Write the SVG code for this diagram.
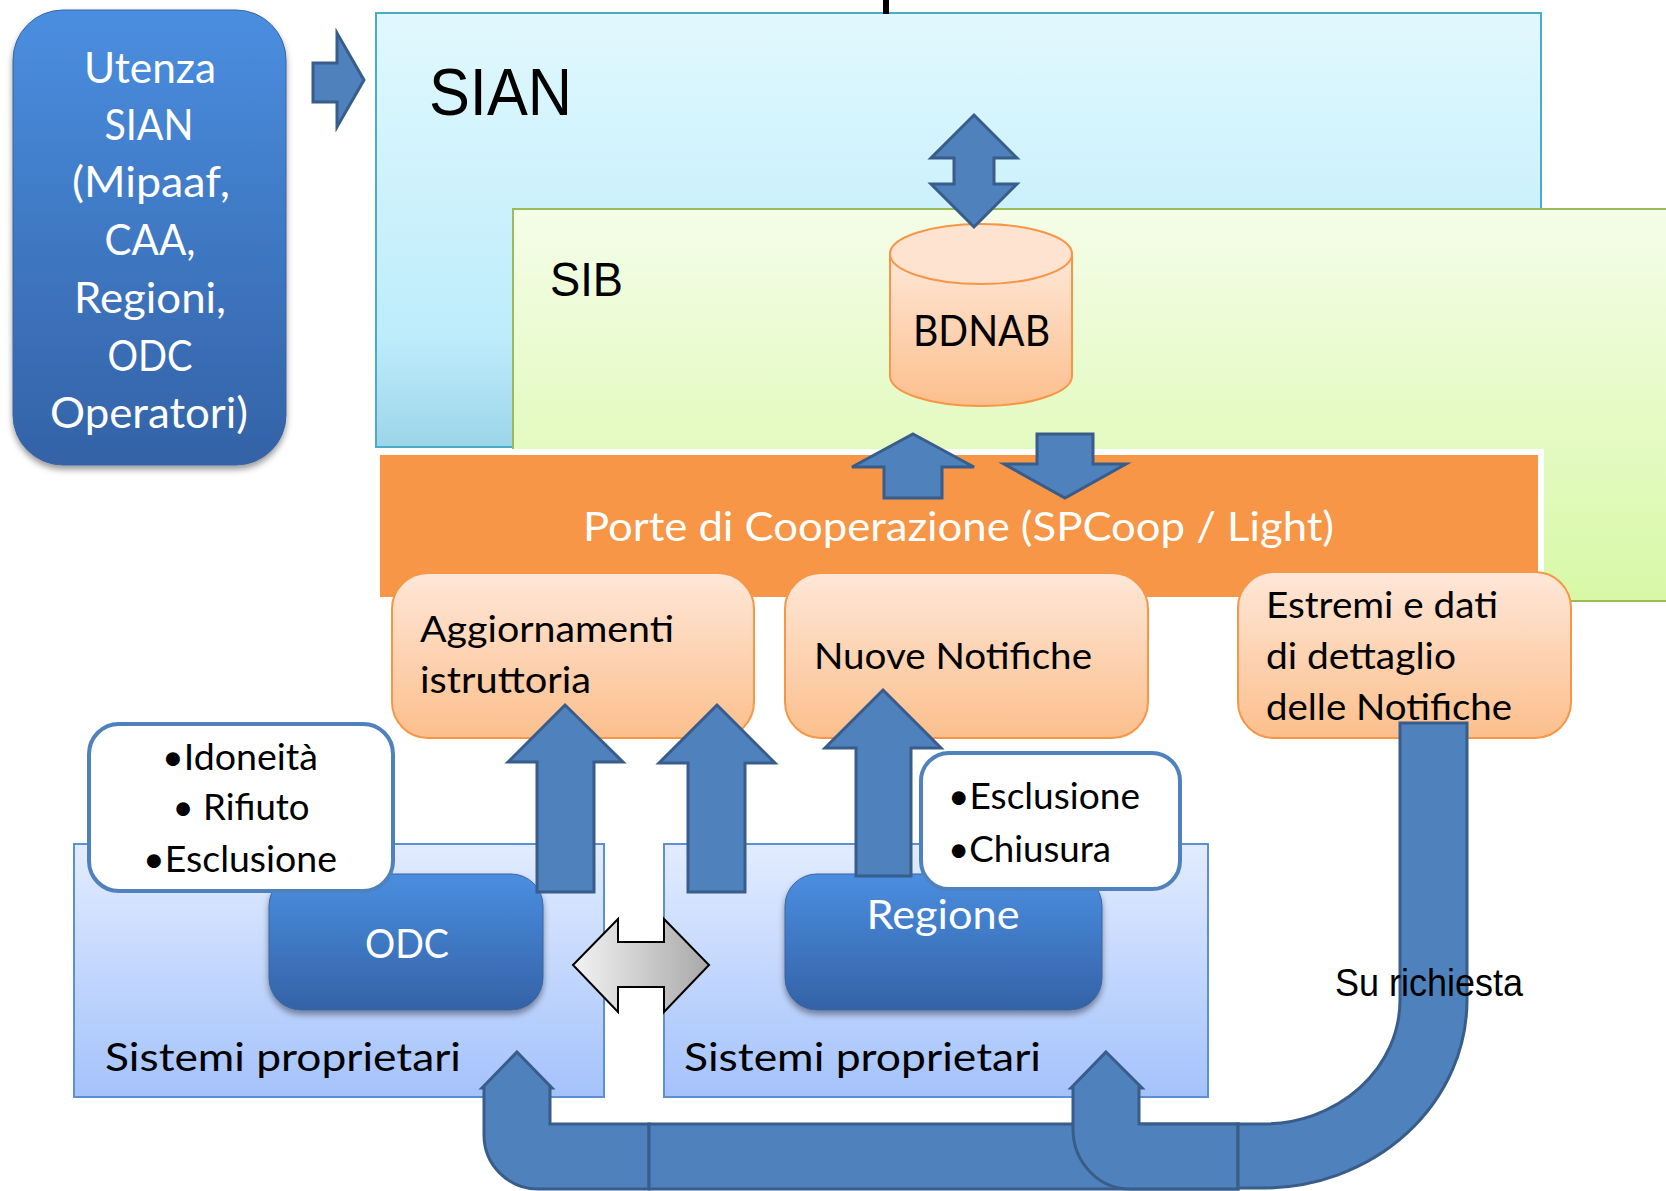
<svg xmlns="http://www.w3.org/2000/svg" width="1666" height="1191" viewBox="0 0 1666 1191">
<defs>
<linearGradient id="gSian" x1="0" y1="0" x2="0" y2="1"><stop offset="0" stop-color="#E1F8FD"/><stop offset="0.75" stop-color="#BDECFB"/><stop offset="1" stop-color="#9CD5E9"/></linearGradient>
<linearGradient id="gSib" x1="0" y1="0" x2="0" y2="1"><stop offset="0" stop-color="#F4FDE8"/><stop offset="1" stop-color="#D8F8A6"/></linearGradient>
<linearGradient id="gOr" x1="0" y1="0" x2="0" y2="1"><stop offset="0" stop-color="#FEE7D8"/><stop offset="1" stop-color="#FCBF8C"/></linearGradient>
<linearGradient id="gBlue" x1="0" y1="0" x2="0" y2="1"><stop offset="0" stop-color="#4A8EE0"/><stop offset="1" stop-color="#3462A6"/></linearGradient>
<linearGradient id="gSys" x1="0" y1="0" x2="0" y2="1"><stop offset="0" stop-color="#E2ECFF"/><stop offset="1" stop-color="#A4C2FB"/></linearGradient>
<linearGradient id="gGray" x1="0" y1="0" x2="1" y2="0"><stop offset="0" stop-color="#F3F3F3"/><stop offset="1" stop-color="#A8A8A8"/></linearGradient>
<filter id="sh" x="-10%" y="-10%" width="120%" height="125%"><feDropShadow dx="0" dy="4" stdDeviation="3" flood-color="#000" flood-opacity="0.4"/></filter>
<style>
.arr{fill:#4F81BD;stroke:#385D8A;stroke-width:3}
.obox{fill:url(#gOr);stroke:#F79646;stroke-width:2}
.bbox{fill:url(#gBlue);stroke:#3A65A0;stroke-width:1;filter:url(#sh)}
.sys{fill:url(#gSys);stroke:#5F8FD3;stroke-width:2}
.wbox{fill:#FFFFFF;stroke:#4F81BD;stroke-width:4}
.cal{font-family:Lato,"Noto Sans",sans-serif}
.ari{font-family:"Liberation Sans",Arial,sans-serif}
.w{fill:#FFFFFF}
.k{fill:#000000}
</style>
</defs>
<rect width="1666" height="1191" fill="#FFFFFF"/>

<g id="sian">
<rect x="376" y="13" width="1165" height="434" fill="url(#gSian)" stroke="#4BACC6" stroke-width="2"/>
<rect x="883" y="0" width="6" height="14" fill="#000"/>
<text class="ari k" x="429" y="115" font-size="66" textLength="143" lengthAdjust="spacingAndGlyphs">SIAN</text>
</g>

<g id="sib">
<rect x="513" y="209" width="1160" height="392" fill="url(#gSib)" stroke="#9BBB59" stroke-width="2"/>
<text class="ari k" x="550" y="296" font-size="49" textLength="73" lengthAdjust="spacingAndGlyphs">SIB</text>
</g>

<g id="utenza">
<rect class="bbox" x="13" y="10" width="273" height="455" rx="50" ry="50"/>
<g class="cal w" font-size="42" text-anchor="middle">
<text x="150" y="83" textLength="132" lengthAdjust="spacingAndGlyphs">Utenza</text>
<text x="149" y="140" textLength="89" lengthAdjust="spacingAndGlyphs">SIAN</text>
<text x="151" y="197" textLength="158" lengthAdjust="spacingAndGlyphs">(Mipaaf,</text>
<text x="150" y="255" textLength="91" lengthAdjust="spacingAndGlyphs">CAA,</text>
<text x="150" y="313" textLength="152" lengthAdjust="spacingAndGlyphs">Regioni,</text>
<text x="150" y="371" textLength="85" lengthAdjust="spacingAndGlyphs">ODC</text>
<text x="149" y="428" textLength="198" lengthAdjust="spacingAndGlyphs">Operatori)</text>
</g>
</g>

<g id="porte">
<rect x="374" y="449" width="1170" height="154" fill="#FFFFFF"/>
<rect x="380" y="455" width="1158" height="142" fill="#F79646"/>
<text class="cal w" x="583" y="541" font-size="40" textLength="751" lengthAdjust="spacingAndGlyphs">Porte di Cooperazione (SPCoop / Light)</text>
</g>

<g id="bdnab">
<path d="M890,254 L890,376 A91,30 0 0 0 1072,376 L1072,254 Z" fill="url(#gOr)" stroke="#F79646" stroke-width="2"/>
<ellipse cx="981" cy="254" rx="91" ry="30" fill="#FEE3D1" stroke="#F79646" stroke-width="2"/>
<text class="cal k" x="913" y="346" font-size="42" textLength="137" lengthAdjust="spacingAndGlyphs">BDNAB</text>
</g>

<g id="aggiornamenti">
<rect class="obox" x="392" y="573" width="362" height="165" rx="36" ry="36"/>
<text class="cal k" x="420" y="642" font-size="36" textLength="254" lengthAdjust="spacingAndGlyphs">Aggiornamenti</text>
<text class="cal k" x="420" y="693" font-size="36" textLength="171" lengthAdjust="spacingAndGlyphs">istruttoria</text>
</g>

<g id="nuove-notifiche">
<rect class="obox" x="785" y="573" width="363" height="165" rx="36" ry="36"/>
<text class="cal k" x="814" y="669" font-size="36" textLength="278" lengthAdjust="spacingAndGlyphs">Nuove Notifiche</text>
</g>

<g id="estremi">
<rect class="obox" x="1238" y="572" width="333" height="166" rx="36" ry="36"/>
<text class="cal k" x="1266" y="618" font-size="36" textLength="232" lengthAdjust="spacingAndGlyphs">Estremi e dati</text>
<text class="cal k" x="1266" y="669" font-size="36" textLength="190" lengthAdjust="spacingAndGlyphs">di dettaglio</text>
<text class="cal k" x="1266" y="720" font-size="36" textLength="246" lengthAdjust="spacingAndGlyphs">delle Notifiche</text>
</g>

<g id="sistemi-odc">
<rect class="sys" x="74" y="844" width="530" height="253"/>
<text class="cal k" x="105" y="1071" font-size="39" textLength="356" lengthAdjust="spacingAndGlyphs">Sistemi proprietari</text>
</g>

<g id="sistemi-regione">
<rect class="sys" x="664" y="844" width="544" height="253"/>
<text class="cal k" x="684" y="1071" font-size="39" textLength="357" lengthAdjust="spacingAndGlyphs">Sistemi proprietari</text>
</g>

<g id="odc">
<rect class="bbox" x="269" y="874" width="274" height="136" rx="32" ry="32"/>
<text class="cal w" x="407" y="958" font-size="40" text-anchor="middle" textLength="84" lengthAdjust="spacingAndGlyphs">ODC</text>
</g>

<g id="regione">
<rect class="bbox" x="785" y="874" width="317" height="136" rx="32" ry="32"/>
<text class="cal w" x="943" y="929" font-size="40" text-anchor="middle" textLength="153" lengthAdjust="spacingAndGlyphs">Regione</text>
</g>

<g id="connectors">
<polygon class="arr" points="313,63 337,63 337,33 364,80 337,127 337,102 313,102"/>
<polygon class="arr" points="974,115 1017,158 994,158 994,184 1017,184 974,227 931,184 954,184 954,158 931,158"/>
<polygon class="arr" points="913,434 974,467 942,467 942,498 884,498 884,467 852,467"/>
<polygon class="arr" points="1037,434 1093,434 1093,464 1126,464 1065,498 1004,464 1037,464"/>
<polygon class="arr" points="565,705 623,762 594,762 594,892 537,892 537,762 508,762"/>
<polygon class="arr" points="717,705 775,763 745,763 745,892 688,892 688,763 659,763"/>
<polygon class="arr" points="883,690 941,748 911,748 911,876 856,876 856,748 825,748"/>
<polygon points="573,965 618,919 618,942 664,942 664,919 709,965 664,1012 664,987 618,987 618,1012" fill="url(#gGray)" stroke="#000" stroke-width="2"/>
<path class="arr" d="M517,1052 L552,1088 L550,1088 L550,1124 L649,1124 L649,1189 L538,1189 A54,54 0 0 1 484,1135 L484,1088 L482,1088 Z"/>
<rect class="arr" x="649" y="1124" width="589" height="65"/>
<path class="arr" d="M1106,1052 L1142,1088 L1139,1088 L1139,1124 L1238,1124 L1238,1189 L1130,1189 A57,60 0 0 1 1073,1129 L1073,1088 L1071,1088 Z"/>
<path class="arr" d="M1400,723 L1467,723 L1467,1000 A204,188 0 0 1 1263,1188 L1238,1188 L1238,1124 L1263,1124 A137,124 0 0 0 1400,1000 Z"/>
</g>

<g id="idoneita">
<rect class="wbox" x="89" y="724" width="304" height="167" rx="30" ry="30"/>
<g class="cal k" font-size="36" text-anchor="middle">
<text x="240" y="770" textLength="156" lengthAdjust="spacingAndGlyphs">•Idoneità</text>
<text x="241" y="820" textLength="137" lengthAdjust="spacingAndGlyphs">• Rifiuto</text>
<text x="240" y="872" textLength="194" lengthAdjust="spacingAndGlyphs">•Esclusione</text>
</g>
</g>

<g id="esclusione-chiusura">
<rect class="wbox" x="921" y="753" width="259" height="136" rx="28" ry="28"/>
<text class="cal k" x="948" y="809" font-size="36" textLength="192" lengthAdjust="spacingAndGlyphs">•Esclusione</text>
<text class="cal k" x="948" y="862" font-size="36" textLength="163" lengthAdjust="spacingAndGlyphs">•Chiusura</text>
</g>

<g id="su-richiesta">
<text class="ari k" x="1335" y="996" font-size="38" textLength="188" lengthAdjust="spacingAndGlyphs">Su richiesta</text>
</g>
</svg>
